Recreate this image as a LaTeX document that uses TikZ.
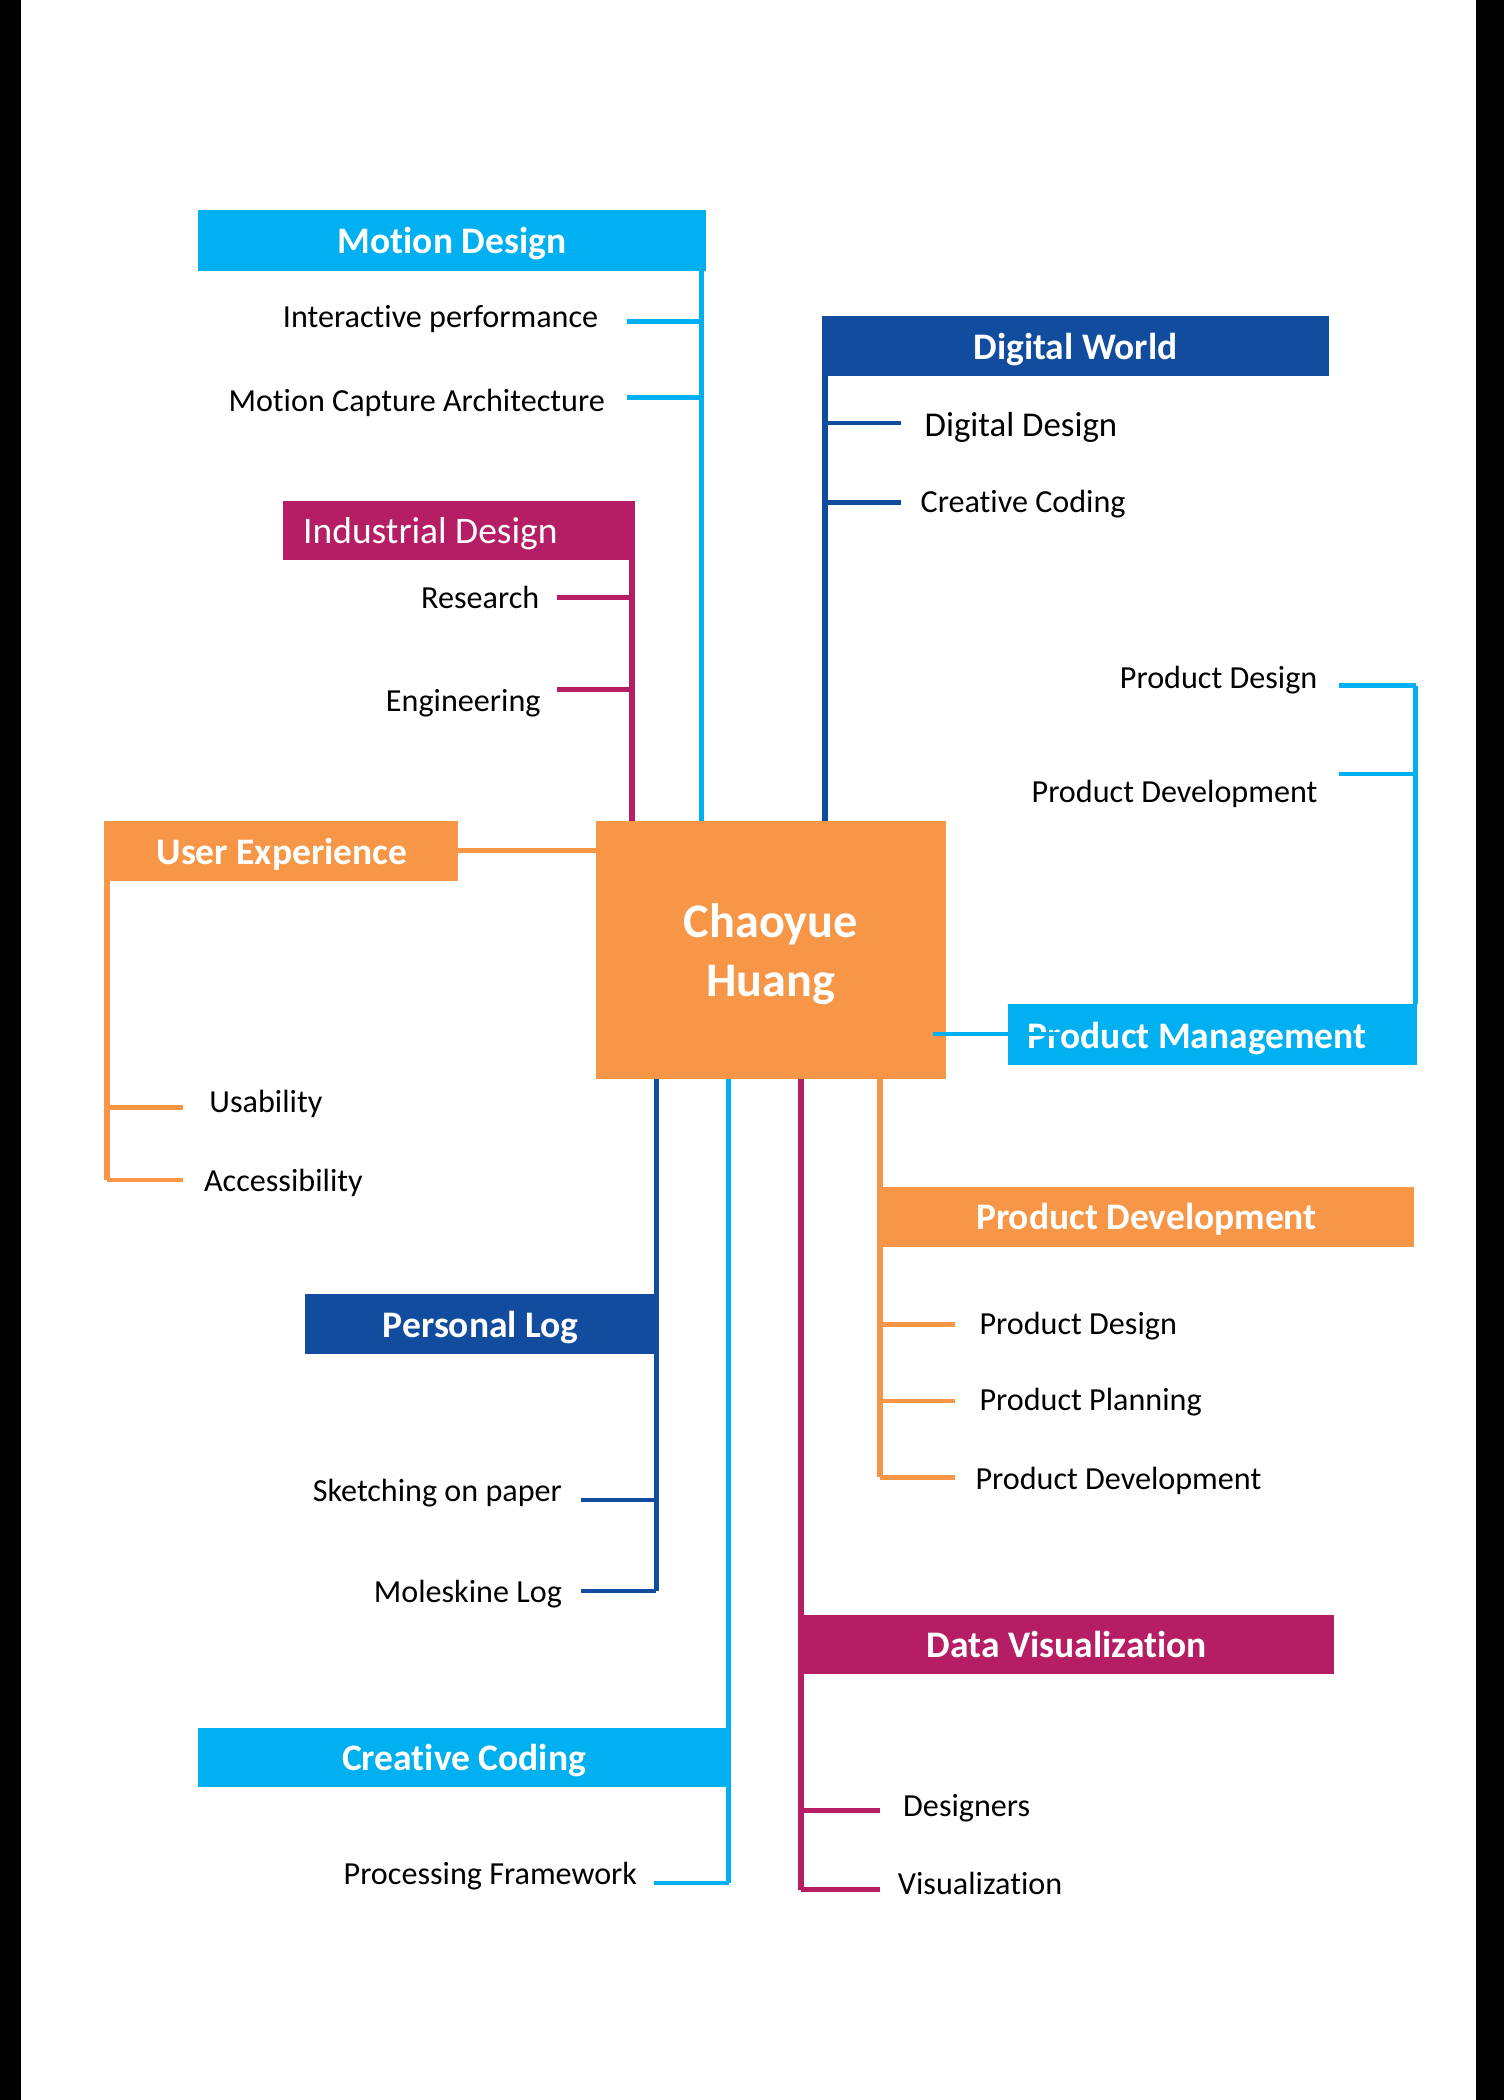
\documentclass[tikz,border=0pt]{standalone}
\usepackage{fontspec}
\setmainfont{Carlito}[Ligatures=NoCommon]
\definecolor{cyanc}{HTML}{00B0F0}
\definecolor{navyc}{HTML}{114C9E}
\definecolor{magc}{HTML}{B51E64}
\definecolor{orgc}{HTML}{F79646}
\tikzset{
  hdr/.style={inner sep=0pt, outer sep=0pt, anchor=north west, text=white, text depth=0pt, font=\fontsize{14}{16}\selectfont\bfseries},
  hdrtxt/.style={inner sep=0pt, anchor=west, text=white, text depth=0pt, font=\fontsize{14}{16}\selectfont},
  item/.style={inner sep=0pt, text=black, text depth=0pt, font=\fontsize{12}{14}\selectfont},
  trunk/.style={line width=2pt},
  branch/.style={line width=1.7pt},
}
\begin{document}
\begin{tikzpicture}[x=0.5pt,y=-0.5pt]
\useasboundingbox (0,0) rectangle (1123,1568);
\fill[white] (0,0) rectangle (1123,1568);
\fill[black] (0,0) rectangle (16,1568);
\fill[black] (1102,0) rectangle (1123,1568);

% central node
\node[hdr, fill=orgc, minimum width=130.5pt, minimum height=96.5pt, align=center,
  font=\fontsize{18}{22}\selectfont\bfseries] (center) at (445,613) {Chaoyue\\Huang};

% header boxes
\node[hdr, fill=cyanc, minimum width=189.5pt, minimum height=22.5pt] (md) at (148,157) {Motion Design};
\node[hdr, fill=magc, minimum width=131.5pt, minimum height=22pt] (idbox) at (211,374) {};
\node[hdrtxt] (id) at (226,396) {Industrial Design};
\node[hdr, fill=orgc, minimum width=131.5pt, minimum height=22.5pt] (ux) at (79,613) {User Experience};
\node[hdr, fill=navyc, minimum width=189pt, minimum height=22.5pt] (dw) at (614,236) {Digital World};
\node[hdr, fill=cyanc, minimum width=152.5pt, minimum height=22.5pt] (pmbox) at (753,750) {};
\node[hdrtxt, font=\fontsize{14}{16}\selectfont\bfseries] (pm) at (767,773) {Product Management};
\node[hdr, fill=orgc, minimum width=200pt, minimum height=22.5pt] (pd) at (656,886) {Product Development};
\node[hdr, fill=navyc, minimum width=131pt, minimum height=22.5pt] (pl) at (228,966) {Personal Log};
\node[hdr, fill=cyanc, minimum width=198.5pt, minimum height=22pt] (cc) at (148,1290) {Creative Coding};
\node[hdr, fill=magc, minimum width=199.5pt, minimum height=22pt] (dv) at (597,1206) {Data Visualization};

% items
\node[item, anchor=east] (ip) at (447,236) {Interactive performance};
\node[item, anchor=east] (mca) at (452,299) {Motion Capture Architecture};
\node[item, anchor=east] (rs) at (403,446) {Research};
\node[item, anchor=east] (en) at (404,523) {Engineering};
\node[item, anchor=west] (us) at (156,822) {Usability};
\node[item, anchor=west] (ac) at (152,881) {Accessibility};
\node[item, anchor=west, font=\fontsize{13}{15}\selectfont] (dd) at (690,317) {Digital Design};
\node[item, anchor=west] (cco) at (687,374) {Creative Coding};
\node[item, anchor=east] (pmd) at (984,506) {Product Design};
\node[item, anchor=east] (pmv) at (984,591) {Product Development};
\node[item, anchor=west] (pdd) at (731,988) {Product Design};
\node[item, anchor=west] (pdp) at (731,1045) {Product Planning};
\node[item, anchor=west] (pdv) at (728,1104) {Product Development};
\node[item, anchor=east] (sk) at (420,1113) {Sketching on paper};
\node[item, anchor=east] (ml) at (420,1188) {Moleskine Log};
\node[item, anchor=east] (pf) at (476,1399) {Processing Framework};
\node[item, anchor=west] (ds) at (674,1348) {Designers};
\node[item, anchor=west] (vz) at (670,1406) {Visualization};

% trunk coordinates
\coordinate (mdT) at (524,157);
\coordinate (idT) at (472,374);
\coordinate (dwT) at (616,236);
\coordinate (pmT) at (1057,750);
\coordinate (pdT) at (657,806);
\coordinate (plT) at (490,806);
\coordinate (ccT) at (544,806);
\coordinate (dvT) at (598,806);
\coordinate (uxT) at (80,613);

% trunks
\draw[trunk, cyanc] (mdT) -- (mdT |- center.north);
\draw[trunk, magc] (idT) -- (idT |- center.north);
\draw[trunk, navyc] (dwT) -- (dwT |- center.north);
\draw[trunk, cyanc] (pmT) -- (1057,512);
\draw[trunk, orgc] (pdT) -- (657,1103);
\draw[trunk, navyc] (plT) -- (490,1188);
\draw[trunk, cyanc] (ccT) -- (544,1406);
\draw[trunk, magc] (dvT) -- (598,1411);
\draw[trunk, orgc] (uxT) -- (80,881);
\draw[trunk, orgc] (ux.east |- 0,635) -- (center.west |- 0,635);

% branches
\draw[branch, cyanc] (468,240) -- (mdT |- 0,240);
\draw[branch, cyanc] (468,297) -- (mdT |- 0,297);
\draw[branch, magc] (416,446) -- (idT |- 0,446);
\draw[branch, magc] (416,515) -- (idT |- 0,515);
\draw[branch, orgc] (uxT |- 0,827) -- (137,827);
\draw[branch, orgc] (uxT |- 0,881) -- (137,881);
\draw[branch, navyc] (dwT |- 0,316) -- (673,316);
\draw[branch, navyc] (dwT |- 0,375) -- (673,375);
\draw[branch, cyanc] (1000,512) -- (pmT |- 0,512);
\draw[branch, cyanc] (1000,578) -- (pmT |- 0,578);
\draw[branch, orgc] (pdT |- 0,989) -- (713,989);
\draw[branch, orgc] (pdT |- 0,1046) -- (713,1046);
\draw[branch, orgc] (pdT |- 0,1103) -- (713,1103);
\draw[branch, navyc] (434,1120) -- (plT |- 0,1120);
\draw[branch, navyc] (434,1188) -- (plT |- 0,1188);
\draw[branch, cyanc] (488,1406) -- (ccT |- 0,1406);
\draw[branch, magc] (dvT |- 0,1352) -- (657,1352);
\draw[branch, magc] (dvT |- 0,1411) -- (657,1411);

% centre to Product Management (drawn over the label)
\draw[branch, cyanc] (697,772) -- (792,772);
\end{tikzpicture}
\end{document}
